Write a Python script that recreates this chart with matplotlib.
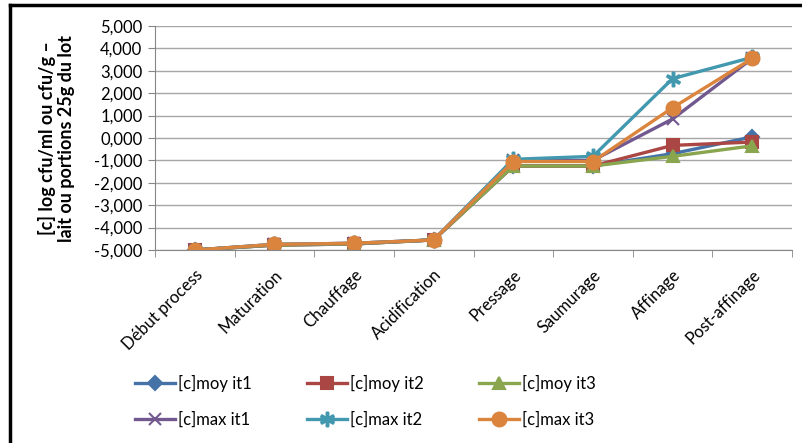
import matplotlib.pyplot as plt
from matplotlib.lines import Line2D
from matplotlib.ticker import FuncFormatter

plt.rcParams['font.family'] = ['Lato', 'DejaVu Sans']

steps = ['Début process', 'Maturation', 'Chauffage', 'Acidification',
         'Pressage', 'Saumurage', 'Affinage', 'Post-affinage']

moy_it1 = [-5.0, -4.78, -4.73, -4.55, -1.25, -1.25, -0.70, 0.05]
moy_it2 = [-5.0, -4.78, -4.73, -4.55, -1.25, -1.25, -0.33, -0.18]
moy_it3 = [-5.0, -4.78, -4.73, -4.55, -1.25, -1.25, -0.82, -0.35]
max_it1 = [-5.0, -4.75, -4.70, -4.55, -1.00, -1.00, 0.85, 3.55]
max_it2 = [-5.0, -4.75, -4.70, -4.55, -0.95, -0.82, 2.65, 3.60]
max_it3 = [-5.0, -4.75, -4.70, -4.55, -1.05, -1.05, 1.35, 3.55]

series = [
    ('[c]moy it1', moy_it1, '#4572A7', 'D', 7),
    ('[c]moy it2', moy_it2, '#AA4643', 's', 9),
    ('[c]moy it3', moy_it3, '#89A54E', '^', 9),
    ('[c]max it1', max_it1, '#71588F', 'x', 9),
    ('[c]max it2', max_it2, '#4198AF', '$\u2217$', 10),
    ('[c]max it3', max_it3, '#DB843D', 'o', 10),
]

fig = plt.figure(figsize=(8.02, 4.43), dpi=100)
ax = fig.add_axes([155 / 802, 1 - 250 / 443, 637 / 802, 224 / 443])

x = list(range(len(steps)))
handles = []
for name, vals, col, mk, ms in series:
    h, = ax.plot(x, vals, color=col, lw=2.4, marker=mk, ms=ms,
                 mec=col, mfc=col, mew=1.5, label=name)
    handles.append(h)

ax.set_xlim(-0.5, len(steps) - 0.5)
ax.set_ylim(-5, 5)
ax.set_yticks(range(-5, 6))
ax.yaxis.set_major_formatter(FuncFormatter(lambda v, p: f'{v:.3f}'.replace('.', ',')))
ax.yaxis.grid(True, color='#a6a6a6', lw=1)
ax.set_axisbelow(True)

ax.set_xticks(x)
ax.set_xticklabels(steps, rotation=45, ha='right', rotation_mode='anchor')
ax.set_xticks([i + 0.5 for i in range(-1, len(steps))], minor=True)
ax.tick_params(axis='x', which='major', length=0, pad=12, labelsize=12)
ax.tick_params(axis='x', which='minor', length=5, color='#868686')
ax.tick_params(axis='y', length=5, color='#868686', labelsize=12, pad=4)

for s in ['top', 'right']:
    ax.spines[s].set_visible(False)
ax.spines['left'].set_color('#868686')
ax.spines['bottom'].set_color('#868686')

ax.set_ylabel('[c] log cfu/ml ou cfu/g –\nlait ou portions 25g du lot',
              fontweight='bold', fontsize=13, labelpad=14, linespacing=1.15)

# legend filled row by row: moy on the first row, max on the second
order = [0, 3, 1, 4, 2, 5]
fig.legend([handles[i] for i in order], [series[i][0] for i in order],
           loc='upper left', bbox_to_anchor=(128 / 802, 1 - 368 / 443), ncol=3,
           frameon=False, fontsize=12, columnspacing=3.3, handlelength=2.4,
           handletextpad=0.2, labelspacing=1.2, borderaxespad=0)

# frame edges of the original picture
fig.add_artist(Line2D([10 / 802, 1], [1 - 5 / 443, 1 - 5 / 443], color='black', lw=2.5))
fig.add_artist(Line2D([10 / 802, 10 / 802], [0, 1 - 5 / 443], color='black', lw=2.5))

fig.savefig('out.png', dpi=100)
